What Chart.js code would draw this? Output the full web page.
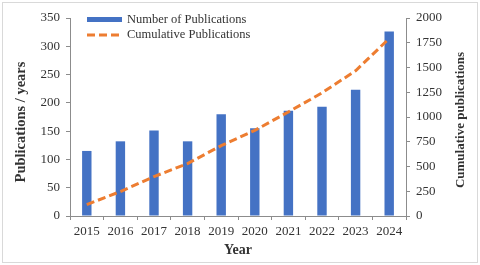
<!DOCTYPE html>
<html>
<head>
<meta charset="utf-8">
<script src="https://cdn.jsdelivr.net/npm/chart.js@4.4.1/dist/chart.umd.min.js"></script>
<style>
html,body{margin:0;padding:0;background:#fff;}
canvas{display:block;}
</style>
</head>
<body>
<canvas id="c" width="480" height="265"></canvas>
<script>
const years = ['2015','2016','2017','2018','2019','2020','2021','2022','2023','2024'];
const publications = [115, 132, 151, 132, 180, 155, 186, 193, 223, 326];
const cumulative = [115, 247, 398, 530, 710, 865, 1051, 1244, 1467, 1793];
const leftTicks = [0, 50, 100, 150, 200, 250, 300, 350];
const rightTicks = [0, 250, 500, 750, 1000, 1250, 1500, 1750, 2000];

const BLUE = '#4472C4';
const ORANGE = '#ED7D31';
const AXIS = '#8c8c8c';
const TXT = '#333333';
const SERIF = '"Liberation Serif", "Times New Roman", serif';

const framePlugin = {
  id: 'frame',
  afterDraw(chart) {
    const ctx = chart.ctx;
    ctx.save();
    // outer frame
    ctx.strokeStyle = '#d9d9d9';
    ctx.lineWidth = 1;
    ctx.strokeRect(2.5, 2.5, 475, 260);
    // legend
    ctx.fillStyle = BLUE;
    ctx.fillRect(87, 17, 35, 5);
    ctx.strokeStyle = ORANGE;
    ctx.lineWidth = 3;
    ctx.setLineDash([8, 4]);
    ctx.beginPath();
    ctx.moveTo(87, 35);
    ctx.lineTo(121, 35);
    ctx.stroke();
    ctx.setLineDash([]);
    ctx.fillStyle = TXT;
    ctx.font = '12.5px ' + SERIF;
    ctx.textBaseline = 'middle';
    ctx.textAlign = 'left';
    ctx.fillText('Number of Publications', 127, 20);
    ctx.fillText('Cumulative Publications', 127, 35);
    ctx.textAlign = 'center';
    // left axis title
    ctx.save();
    ctx.translate(21, 122);
    ctx.rotate(-Math.PI / 2);
    ctx.font = 'bold 14.5px ' + SERIF;
    ctx.fillText('Publications / years', 0, 0);
    ctx.restore();
    // right axis title (reads bottom to top)
    ctx.save();
    ctx.translate(461, 120);
    ctx.rotate(-Math.PI / 2);
    ctx.font = 'bold 13px ' + SERIF;
    ctx.fillText('Cumulative publications', 0, 0);
    ctx.restore();
    ctx.restore();
  }
};

new Chart(document.getElementById('c'), {
  type: 'bar',
  data: {
    labels: years,
    datasets: [
      {
        type: 'line',
        label: 'Cumulative Publications',
        data: cumulative,
        yAxisID: 'y1',
        borderColor: ORANGE,
        borderWidth: 3,
        borderDash: [8, 4],
        pointRadius: 0,
        tension: 0,
        fill: false,
        order: 0
      },
      {
        type: 'bar',
        label: 'Number of Publications',
        data: publications,
        yAxisID: 'y',
        backgroundColor: BLUE,
        borderWidth: 0,
        barPercentage: 0.28,
        categoryPercentage: 1,
        order: 1
      }
    ]
  },
  options: {
    responsive: false,
    animation: false,
    devicePixelRatio: 1,
    layout: { padding: { top: 18, left: 0, right: 0, bottom: 0 } },
    plugins: { legend: { display: false }, tooltip: { enabled: false } },
    scales: {
      x: {
        offset: true,
        grid: { offset: true, drawOnChartArea: false, drawTicks: true, tickLength: 4, color: AXIS },
        border: { display: true, color: AXIS, width: 1 },
        ticks: { color: TXT, font: { family: SERIF, size: 13 }, padding: 4, maxRotation: 0 },
        title: { display: true, text: 'Year', color: TXT, font: { family: SERIF, size: 14, weight: 'bold' }, padding: { top: 0, bottom: 6 } },
        afterFit(s) { s.height = 49; }
      },
      y: {
        position: 'left',
        min: 0, max: 350,
        afterBuildTicks(s) { s.ticks = leftTicks.map(v => ({ value: v })); },
        grid: { drawOnChartArea: false, drawTicks: true, tickLength: 4, color: AXIS },
        border: { display: true, color: AXIS, width: 1 },
        ticks: { color: TXT, font: { family: SERIF, size: 13 }, padding: 6 },
        title: { display: false },
        afterFit(s) { s.width = 70; }
      },
      y1: {
        position: 'right',
        min: 0, max: 2000,
        afterBuildTicks(s) { s.ticks = rightTicks.map(v => ({ value: v })); },
        grid: { drawOnChartArea: false, drawTicks: true, tickLength: 4, color: AXIS },
        border: { display: true, color: AXIS, width: 1 },
        ticks: { color: TXT, font: { family: SERIF, size: 13 }, padding: 6, callback: v => String(v) },
        title: { display: false },
        afterFit(s) { s.width = 74; }
      }
    }
  },
  plugins: [framePlugin]
});
</script>
</body>
</html>
